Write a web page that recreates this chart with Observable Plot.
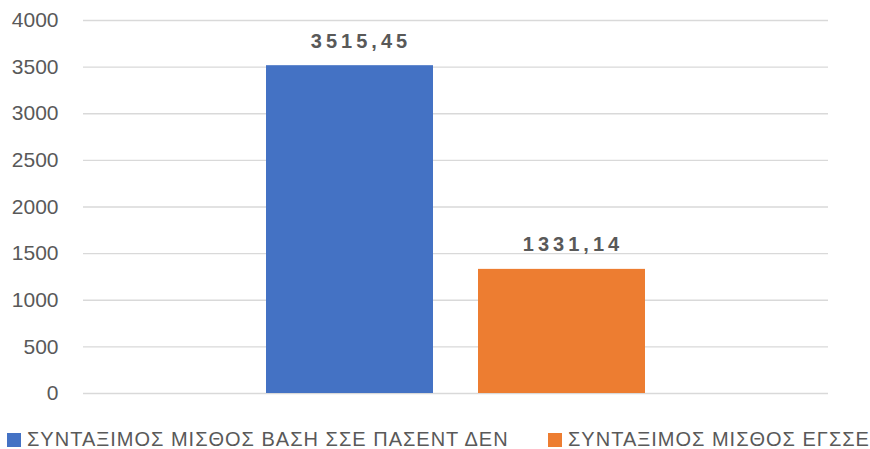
<!DOCTYPE html>
<html>
<head>
<meta charset="utf-8">
<script src="https://cdn.jsdelivr.net/npm/d3@7"></script>
<script src="https://cdn.jsdelivr.net/npm/@observablehq/plot@0.6"></script>
<style>
  body { margin: 0; background: #fff; font-family: "Liberation Sans", Arial, sans-serif; }
  #chart { position: relative; width: 870px; height: 449px; }
  .legend { position: absolute; top: 428px; left: 0; width: 870px; height: 21px; font-size: 20px; letter-spacing: 1px; color: #595959; white-space: nowrap; }
  .item { position: absolute; top: 0; display: flex; align-items: center; }
  .sw { width: 14px; height: 14px; margin-right: 6px; }
</style>
</head>
<body>
<div id="chart"></div>
<script>
const categories = ["ΣΥΝΤΑΞΙΜΟΣ ΜΙΣΘΟΣ ΒΑΣΗ ΣΣΕ ΠΑΣΕΝΤ ΔΕΝ", "ΣΥΝΤΑΞΙΜΟΣ ΜΙΣΘΟΣ ΕΓΣΣΕ"];
const values = [3515.45, 1331.14];
const colors = ["#4472C4", "#ED7D31"];
const yTicks = [0, 500, 1000, 1500, 2000, 2500, 3000, 3500, 4000];

const data = categories.map((c, i) => ({cat: c, value: values[i], color: colors[i]}));
const fmt = v => v.toFixed(2).replace(".", ",");

const plot = Plot.plot({
  width: 870,
  height: 415,
  marginLeft: 83,
  marginRight: 42,
  marginTop: 20,
  marginBottom: 22,
  style: {fontFamily: "'Liberation Sans', Arial, sans-serif", fontSize: "20px", color: "#595959", background: "#fff"},
  x: {domain: categories, axis: null, paddingInner: 0.21, paddingOuter: 0.858},
  y: {domain: [0, 4000], axis: null},
  marks: [
    Plot.gridY(yTicks, {stroke: "#d9d9d9", strokeOpacity: 1, strokeWidth: 1.3}),
    Plot.barY(data, {x: "cat", y: "value", fill: "color"}),
    Plot.axisY(yTicks, {tickSize: 0, tickPadding: 25, fontSize: 21, fill: "#595959", label: null, tickFormat: d => String(d)}),
    Plot.text(data, {x: "cat", y: "value", text: d => fmt(d.value), lineAnchor: "bottom", dy: -18, dx: 11,
      fontWeight: "bold", fontSize: 20, fill: "#595959"})
  ]
});
plot.querySelectorAll("text").forEach(t => { if (t.textContent.includes(",")) t.style.letterSpacing = "4px"; });
const chart = document.getElementById("chart");
chart.appendChild(plot);

const legend = document.createElement("div");
legend.className = "legend";
const lefts = [7, 548];
categories.forEach((c, i) => {
  const it = document.createElement("div");
  it.className = "item";
  it.style.left = lefts[i] + "px";
  const sw = document.createElement("span");
  sw.className = "sw";
  sw.style.background = colors[i];
  const lb = document.createElement("span");
  lb.textContent = c;
  it.appendChild(sw); it.appendChild(lb);
  legend.appendChild(it);
});
chart.appendChild(legend);
</script>
</body>
</html>
